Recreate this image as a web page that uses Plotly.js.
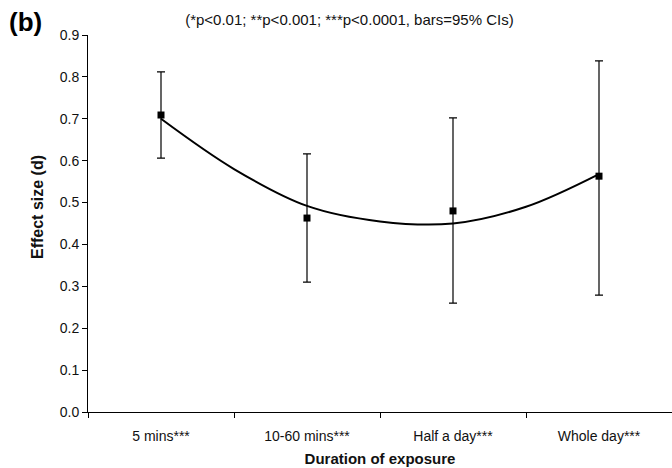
<!DOCTYPE html>
<html>
<head>
<meta charset="utf-8">
<script src="https://cdn.plot.ly/plotly-3.0.1.min.js"></script>
<style>html,body{margin:0;padding:0;background:#fff;}#chart{width:672px;height:468px;}</style>
</head>
<body>
<div id="chart"></div>
<script>
// Data
const categories = ["5 mins***", "10-60 mins***", "Half a day***", "Whole day***"];
const catPos = [1, 2, 3, 4];
const effectSize = [0.709, 0.463, 0.480, 0.563];
const ciUpper = [0.812, 0.616, 0.702, 0.838];
const ciLower = [0.606, 0.310, 0.260, 0.279];
// Polynomial trend line
const trendX = [1, 1.5, 2, 2.5, 3, 3.5, 4];
const trendY = [0.700, 0.580, 0.492, 0.455, 0.450, 0.490, 0.568];
const yTicks = [0, 0.1, 0.2, 0.3, 0.4, 0.5, 0.6, 0.7, 0.8, 0.9];
const boundaries = [0.5, 1.5, 2.5, 3.5, 4.5];

const FONT = "Liberation Sans, Arial, sans-serif";

const traces = [
  {
    x: trendX, y: trendY, type: "scatter", mode: "lines",
    line: {color: "#000", width: 2, shape: "spline"},
    hoverinfo: "skip", showlegend: false
  },
  {
    x: catPos, y: effectSize, type: "scatter", mode: "markers",
    marker: {symbol: "square", size: 7, color: "#000"},
    error_y: {
      type: "data", symmetric: false,
      array: ciUpper.map((u, i) => u - effectSize[i]),
      arrayminus: effectSize.map((v, i) => v - ciLower[i]),
      color: "#000", thickness: 1.2, width: 4
    },
    showlegend: false
  }
];

const layout = {
  width: 672, height: 468,
  margin: {l: 88, r: 0, t: 35, b: 56},
  paper_bgcolor: "#fff", plot_bgcolor: "#fff",
  font: {family: FONT, size: 14, color: "#111"},
  showlegend: false,
  title: {
    text: "(*p<0.01; **p<0.001; ***p<0.0001, bars=95% CIs)",
    font: {family: FONT, size: 15, color: "#111"},
    x: 0.520, xanchor: "center", y: 0.957, yanchor: "middle"
  },
  xaxis: {
    range: [0.5, 4.5],
    tickmode: "array", tickvals: catPos, ticktext: categories,
    ticks: "outside", ticklen: 11, tickcolor: "rgba(0,0,0,0)",
    minor: {tickmode: "array", tickvals: boundaries, ticks: "outside", ticklen: 5, tickcolor: "#000", tickwidth: 1},
    showline: true, linecolor: "#000", linewidth: 1,
    showgrid: false, zeroline: false,
    tickfont: {family: FONT, size: 14, color: "#111"},
    title: {text: "<b>Duration of exposure</b>", font: {family: FONT, size: 15, color: "#111"}, standoff: 10}
  },
  yaxis: {
    range: [0, 0.9],
    tickmode: "array", tickvals: yTicks, tickformat: ".1f",
    ticks: "outside", ticklen: 5, tickcolor: "#000",
    showline: true, linecolor: "#000", linewidth: 1,
    showgrid: false, zeroline: false,
    tickfont: {family: FONT, size: 14, color: "#111"}
  },
  annotations: [
    {
      text: "<b>(b)</b>", xref: "paper", yref: "paper",
      x: (7 - 88) / 584, xanchor: "left", y: (412 - 22) / 377, yanchor: "middle",
      showarrow: false, font: {family: FONT, size: 26, color: "#000"}
    },
    {
      text: "<b>Effect size (d)</b>", xref: "paper", yref: "paper", textangle: -90,
      x: (37 - 88) / 584, xanchor: "center", y: (412 - 207) / 377, yanchor: "middle",
      showarrow: false, font: {family: FONT, size: 16, color: "#111"}
    }
  ]
};

Plotly.newPlot("chart", traces, layout, {displayModeBar: false, staticPlot: true});
</script>
</body>
</html>
